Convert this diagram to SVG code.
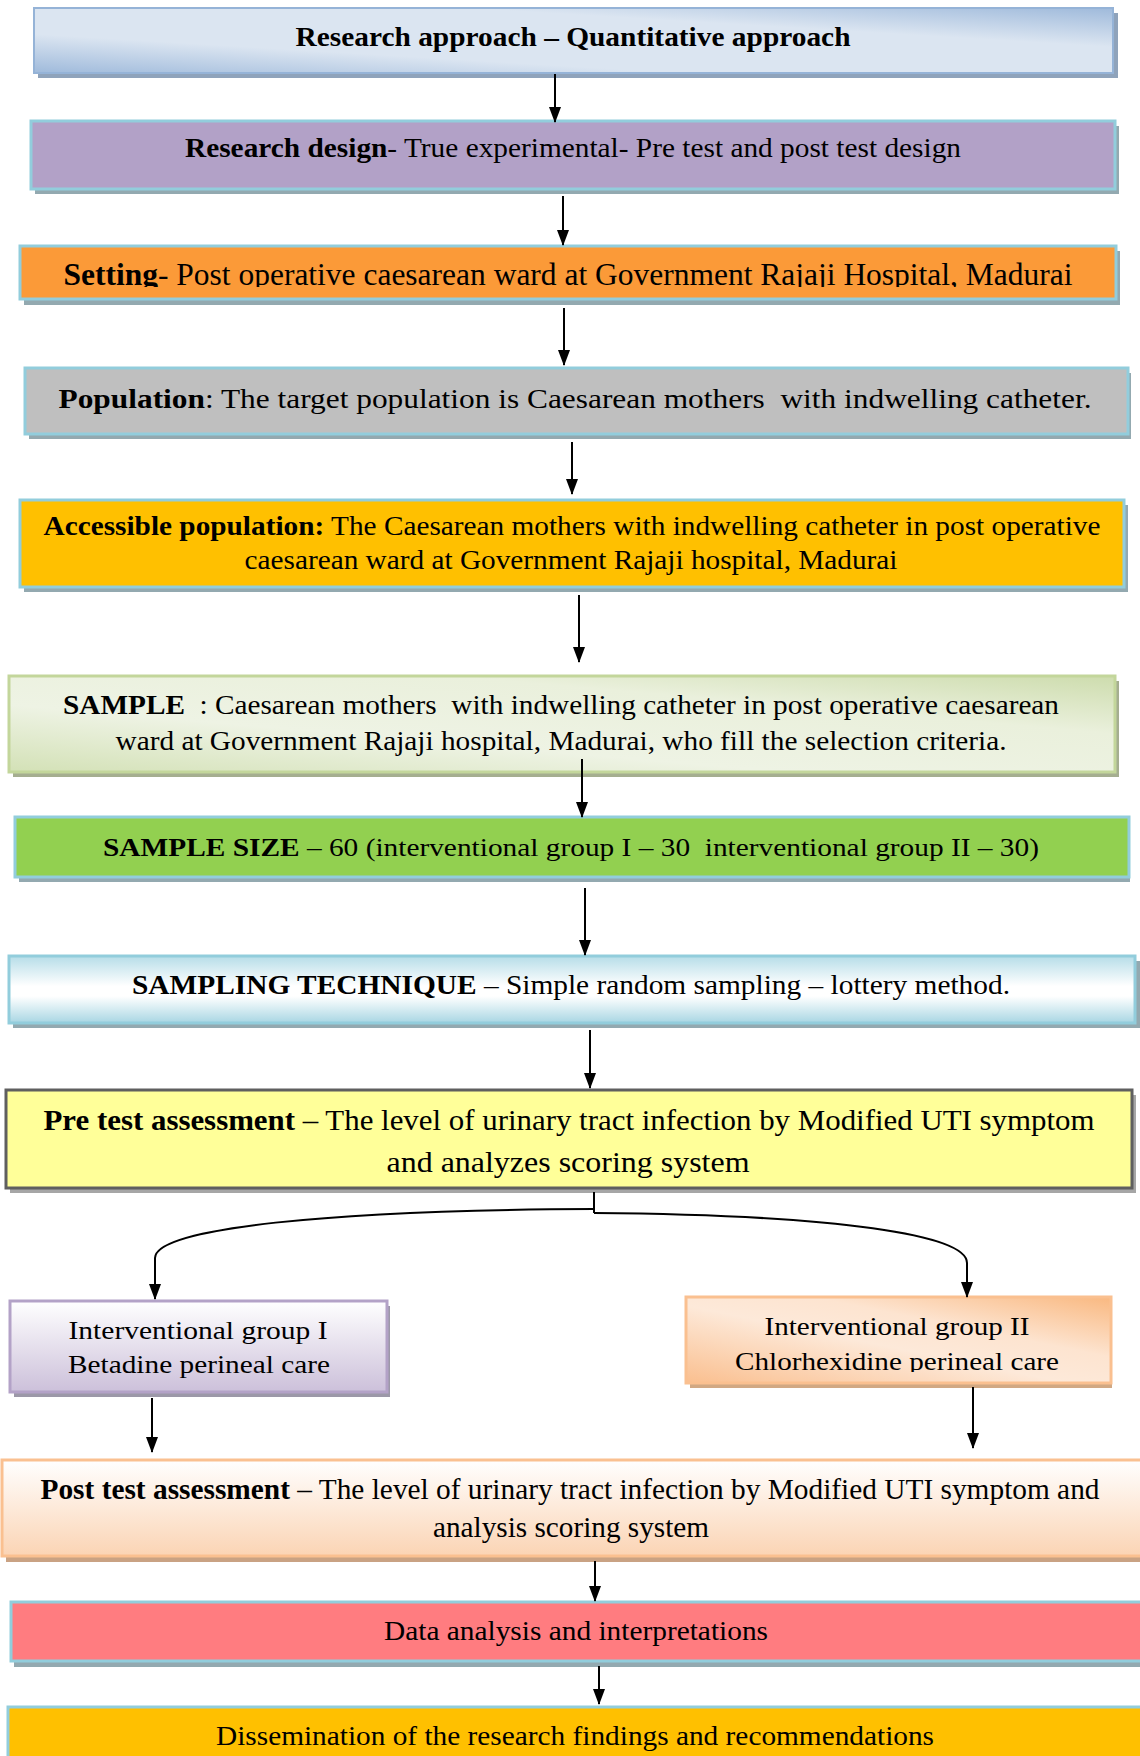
<svg xmlns="http://www.w3.org/2000/svg" width="1140" height="1756" viewBox="0 0 1140 1756" font-family="'Liberation Serif', serif">
<style>
  text { font-family: 'Liberation Serif', serif; fill: #000; }
  .b { font-weight: bold; }
  .conn line, .conn path { stroke: #000; stroke-width: 2; fill: none; }
  .sh { stroke: none; }
</style>
<defs>
  <marker id="ah" viewBox="0 0 16 12" refX="15" refY="6" markerWidth="16" markerHeight="12" markerUnits="userSpaceOnUse" orient="auto">
    <path d="M0,0 L16,6 L0,12 Z" fill="#000"/>
  </marker>
  <linearGradient id="g1" x1="0" y1="1" x2="1" y2="0">
    <stop offset="0" stop-color="#9fbadb"/>
    <stop offset="0.3" stop-color="#dbe5f1"/>
    <stop offset="0.7" stop-color="#dbe5f1"/>
    <stop offset="1" stop-color="#9fbadb"/>
  </linearGradient>
  <linearGradient id="g6" x1="0" y1="1" x2="1" y2="0">
    <stop offset="0" stop-color="#d3e1b6"/>
    <stop offset="0.35" stop-color="#eef3e4"/>
    <stop offset="0.7" stop-color="#eaf0dc"/>
    <stop offset="1" stop-color="#cddcad"/>
  </linearGradient>
  <linearGradient id="g8" x1="0" y1="0" x2="0" y2="1">
    <stop offset="0" stop-color="#b6dde8"/>
    <stop offset="0.45" stop-color="#ffffff"/>
    <stop offset="0.6" stop-color="#ffffff"/>
    <stop offset="1" stop-color="#a8d6e3"/>
  </linearGradient>
  <linearGradient id="g10" x1="0" y1="0" x2="0" y2="1">
    <stop offset="0" stop-color="#ffffff"/>
    <stop offset="1" stop-color="#ccc0da"/>
  </linearGradient>
  <linearGradient id="g11" x1="0" y1="1" x2="1" y2="0">
    <stop offset="0" stop-color="#fabf8f"/>
    <stop offset="0.45" stop-color="#fde9d9"/>
    <stop offset="0.65" stop-color="#fde4d0"/>
    <stop offset="1" stop-color="#f9b880"/>
  </linearGradient>
  <linearGradient id="g12" x1="0" y1="0" x2="0" y2="1">
    <stop offset="0" stop-color="#ffffff"/>
    <stop offset="1" stop-color="#fbd4b4"/>
  </linearGradient>
  <clipPath id="clip3"><rect x="20" y="246" width="1100" height="41"/></clipPath>
  <clipPath id="clip11"><rect x="686" y="1298" width="425" height="74"/></clipPath>
</defs>

<g id="n1">
  <rect class="sh" x="38" y="13" width="1080" height="65" fill="#8fa3bb"/>
  <rect x="34" y="8" width="1079" height="65" fill="url(#g1)" stroke="#95b3d7" stroke-width="2"/>
  <text font-family="Liberation Serif" x="573" y="46" font-size="27" text-anchor="middle" textLength="555" lengthAdjust="spacingAndGlyphs"><tspan class="b">Research approach – Quantitative approach</tspan></text>
</g>

<g id="n2">
  <rect class="sh" x="35" y="126" width="1084" height="68" fill="#93a9b0"/>
  <rect x="31" y="121" width="1084" height="68" fill="#b2a1c7" stroke="#92cddc" stroke-width="3"/>
  <text font-family="Liberation Serif" x="573" y="157" font-size="28" text-anchor="middle" textLength="776" lengthAdjust="spacingAndGlyphs"><tspan class="b">Research design</tspan>- True experimental- Pre test and post test design</text>
</g>

<g id="n3">
  <rect class="sh" x="24" y="251" width="1096" height="54" fill="#93a9b0"/>
  <rect x="20" y="246" width="1096" height="53" fill="#fb9a38" stroke="#92cddc" stroke-width="3"/>
  <text font-family="Liberation Serif" clip-path="url(#clip3)" x="568" y="285" font-size="31" text-anchor="middle" textLength="1009" lengthAdjust="spacingAndGlyphs"><tspan class="b">Setting</tspan>- Post operative caesarean ward at Government Rajaji Hospital, Madurai</text>
</g>

<g id="n4">
  <rect class="sh" x="29" y="373" width="1102" height="66" fill="#93a9b0"/>
  <rect x="25" y="368" width="1103" height="66" fill="#bfbfbf" stroke="#92cddc" stroke-width="3"/>
  <text font-family="Liberation Serif" xml:space="preserve" x="575" y="408" font-size="28" text-anchor="middle" textLength="1033" lengthAdjust="spacingAndGlyphs"><tspan class="b">Population</tspan>: The target population is Caesarean mothers  with indwelling catheter.</text>
</g>

<g id="n5">
  <rect class="sh" x="24" y="505" width="1104" height="87" fill="#93a9b0"/>
  <rect x="20" y="500" width="1104" height="87" fill="#ffc000" stroke="#92cddc" stroke-width="3"/>
  <text font-family="Liberation Serif" x="572" y="535" font-size="28" text-anchor="middle" textLength="1057" lengthAdjust="spacingAndGlyphs"><tspan class="b">Accessible population:</tspan> The Caesarean mothers with indwelling catheter in post operative</text>
  <text font-family="Liberation Serif" x="571" y="569" font-size="28" text-anchor="middle" textLength="653" lengthAdjust="spacingAndGlyphs">caesarean ward at Government Rajaji hospital, Madurai</text>
</g>

<g id="n6">
  <rect class="sh" x="13" y="681" width="1106" height="96" fill="#a5ae90"/>
  <rect x="9" y="676" width="1106" height="96" fill="url(#g6)" stroke="#c3d69b" stroke-width="3"/>
  <text font-family="Liberation Serif" xml:space="preserve" x="561" y="714" font-size="27" text-anchor="middle" textLength="996" lengthAdjust="spacingAndGlyphs"><tspan class="b">SAMPLE</tspan>  : Caesarean mothers  with indwelling catheter in post operative caesarean</text>
  <text font-family="Liberation Serif" x="561" y="750" font-size="27" text-anchor="middle" textLength="891" lengthAdjust="spacingAndGlyphs">ward at Government Rajaji hospital, Madurai, who fill the selection criteria.</text>
</g>

<g id="n7">
  <rect class="sh" x="19" y="822" width="1111" height="60" fill="#93a9b0"/>
  <rect x="15" y="817" width="1114" height="60" fill="#92d050" stroke="#92cddc" stroke-width="3"/>
  <text font-family="Liberation Serif" xml:space="preserve" x="571" y="856" font-size="26" text-anchor="middle" textLength="936" lengthAdjust="spacingAndGlyphs"><tspan class="b">SAMPLE SIZE</tspan> – 60 (interventional group I – 30  interventional group II – 30)</text>
</g>

<g id="n8">
  <rect class="sh" x="13" y="961" width="1127" height="67" fill="#93a9b0"/>
  <rect x="9" y="956" width="1126" height="67" fill="url(#g8)" stroke="#92cddc" stroke-width="3"/>
  <text font-family="Liberation Serif" x="571" y="994" font-size="27" text-anchor="middle" textLength="878" lengthAdjust="spacingAndGlyphs"><tspan class="b">SAMPLING TECHNIQUE</tspan> – Simple random sampling – lottery method.</text>
</g>

<g id="n9">
  <rect class="sh" x="10" y="1095" width="1126" height="98" fill="#a6a6a6"/>
  <rect x="6" y="1090" width="1126" height="98" fill="#ffff99" stroke="#5f5f5f" stroke-width="3"/>
  <text font-family="Liberation Serif" x="569" y="1130" font-size="30" text-anchor="middle" textLength="1051" lengthAdjust="spacingAndGlyphs"><tspan class="b">Pre test assessment</tspan> – The level of urinary tract infection by Modified UTI symptom</text>
  <text font-family="Liberation Serif" x="568" y="1172" font-size="30" text-anchor="middle" textLength="363" lengthAdjust="spacingAndGlyphs">and analyzes scoring system</text>
</g>

<g id="n10">
  <rect class="sh" x="14" y="1306" width="376" height="91" fill="#9c98a8"/>
  <rect x="10" y="1301" width="377" height="91" fill="url(#g10)" stroke="#b3a2c7" stroke-width="3"/>
  <text font-family="Liberation Serif" x="198" y="1339" font-size="26" text-anchor="middle" textLength="259" lengthAdjust="spacingAndGlyphs">Interventional group I</text>
  <text font-family="Liberation Serif" x="199" y="1373" font-size="26" text-anchor="middle" textLength="262" lengthAdjust="spacingAndGlyphs">Betadine perineal care</text>
</g>

<g id="n11">
  <rect class="sh" x="690" y="1302" width="422" height="86" fill="#d1a883"/>
  <rect x="686" y="1297" width="425" height="86" fill="url(#g11)" stroke="#fac090" stroke-width="3"/>
  <text font-family="Liberation Serif" x="897" y="1335" font-size="26" text-anchor="middle" textLength="265" lengthAdjust="spacingAndGlyphs">Interventional group II</text>
  <text font-family="Liberation Serif" clip-path="url(#clip11)" x="897" y="1370" font-size="26" text-anchor="middle" textLength="324" lengthAdjust="spacingAndGlyphs">Chlorhexidine perineal care</text>
</g>

<g id="n12">
  <rect class="sh" x="6" y="1465" width="1140" height="97" fill="#c9a283"/>
  <rect x="2" y="1460" width="1145" height="96" fill="url(#g12)" stroke="#fac090" stroke-width="3"/>
  <text font-family="Liberation Serif" x="570" y="1499" font-size="29" text-anchor="middle" textLength="1059" lengthAdjust="spacingAndGlyphs"><tspan class="b">Post test assessment</tspan> – The level of urinary tract infection by Modified UTI symptom and</text>
  <text font-family="Liberation Serif" x="571" y="1537" font-size="29" text-anchor="middle" textLength="276" lengthAdjust="spacingAndGlyphs">analysis scoring system</text>
</g>

<g id="n13">
  <rect class="sh" x="14" y="1607" width="1140" height="60" fill="#93a9b0"/>
  <rect x="11" y="1602" width="1140" height="59" fill="#ff7c80" stroke="#92cddc" stroke-width="3"/>
  <text font-family="Liberation Serif" x="576" y="1640" font-size="28" text-anchor="middle" textLength="384" lengthAdjust="spacingAndGlyphs">Data analysis and interpretations</text>
</g>

<g id="n14">
  <rect x="8" y="1707" width="1140" height="60" fill="#ffc000" stroke="#92cddc" stroke-width="3"/>
  <text font-family="Liberation Serif" x="575" y="1745" font-size="28" text-anchor="middle" textLength="718" lengthAdjust="spacingAndGlyphs">Dissemination of the research findings and recommendations</text>
</g>

<g class="conn" id="connectors">
  <line x1="555" y1="74" x2="555" y2="122" marker-end="url(#ah)"/>
  <line x1="563" y1="196" x2="563" y2="245" marker-end="url(#ah)"/>
  <line x1="564" y1="308" x2="564" y2="365" marker-end="url(#ah)"/>
  <line x1="572" y1="442" x2="572" y2="494" marker-end="url(#ah)"/>
  <line x1="579" y1="595" x2="579" y2="662" marker-end="url(#ah)"/>
  <line x1="582" y1="759" x2="582" y2="817" marker-end="url(#ah)"/>
  <line x1="585" y1="888" x2="585" y2="955" marker-end="url(#ah)"/>
  <line x1="590" y1="1030" x2="590" y2="1088" marker-end="url(#ah)"/>
  <line x1="594" y1="1192" x2="594" y2="1213"/>
  <path d="M594,1209 C330,1210 155,1228 155,1258 L155,1299" marker-end="url(#ah)"/>
  <path d="M594,1213 C840,1215 967,1235 967,1263 L967,1297" marker-end="url(#ah)"/>
  <line x1="152" y1="1398" x2="152" y2="1452" marker-end="url(#ah)"/>
  <line x1="973" y1="1387" x2="973" y2="1448" marker-end="url(#ah)"/>
  <line x1="595" y1="1561" x2="595" y2="1601" marker-end="url(#ah)"/>
  <line x1="599" y1="1666" x2="599" y2="1704" marker-end="url(#ah)"/>
</g>
</svg>
